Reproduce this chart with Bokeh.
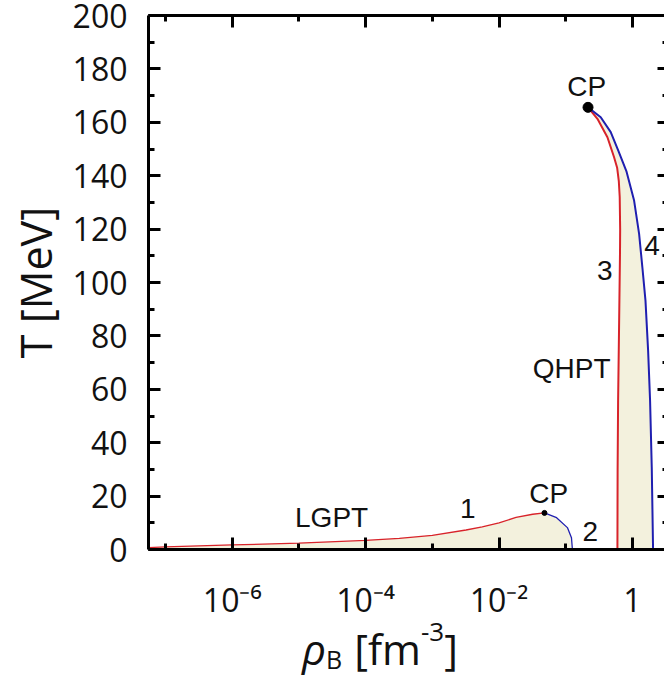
from bokeh.plotting import figure
from bokeh.layouts import column
from bokeh.models import (Range1d, LogAxis, LinearAxis, FixedTicker, SingleIntervalTicker,
                          CustomJSTickFormatter, ColumnDataSource, Div)
from bokeh.core.properties import value
from bokeh.embed import file_html
from bokeh.resources import INLINE

# ---------------- data ----------------
# curve 1 : liquid-gas transition line (red)
rho1 = [5.6e-8, 1e-7, 1e-6, 1e-5, 1e-4, 3.2e-4, 1e-3, 3.2e-3, 5.6e-3, 1e-2, 1.8e-2, 3.2e-2, 4.8e-2]
T1 = [0.7, 1.0, 1.7, 2.4, 3.4, 4.2, 5.3, 7.3, 8.5, 10.0, 12.0, 13.2, 13.7]
# curve 2 : (blue)
rho2 = [0.048, 0.073, 0.106, 0.122, 0.126]
T2 = [13.7, 11.9, 8.2, 4.4, 0.0]
# curve 3 : quark-hadron transition, hadron side (red)
rho3 = [0.216, 0.299, 0.422, 0.531, 0.590, 0.625, 0.645, 0.655, 0.652, 0.638, 0.624, 0.610, 0.600, 0.596]
T3 = [165.6, 161.3, 154.4, 146.9, 143.0, 138.0, 132.0, 120.0, 111.9, 93.2, 74.4, 55.7, 30.0, 0.0]
# curve 4 : quark side (blue)
rho4 = [0.216, 0.335, 0.473, 0.614, 0.817, 1.06, 1.26, 1.41, 1.57, 1.72, 1.84, 1.95, 2.04]
T4 = [165.6, 161.9, 156.3, 149.4, 141.5, 130.7, 118.2, 105.7, 93.2, 74.4, 55.7, 30.7, 0.0]
# critical points
cp_rho = [0.048, 0.216]
cp_T = [13.7, 165.6]

# tick values / labels
x_major = [1e-6, 1e-4, 1e-2, 1.0]
x_minor = [1e-7, 1e-5, 1e-3, 1e-1]
x_labels = ["10\u207b\u2076", "10\u207b\u2074", "10\u207b\u00b2", "1"]

# annotation texts
ann_text = ["CP", "3", "4", "QHPT", "CP", "2", "1", "LGPT"]
ann_rho = [0.206, 0.384, 1.97, 0.123, 0.0556, 0.233, 0.00339, 3.09e-5]
ann_T = [173.4, 104.4, 113.8, 67.7, 20.8, 6.9, 15.2, 11.8]

RED = "#d8232a"
BLUE = "#1f1fb0"
FILL = "#f3f1dd"
TICKFONT = "Open Sans"

X0, X1 = 10 ** -7.255, 10 ** 0.481

p = figure(width=664, height=625, x_axis_type="log",
           x_range=Range1d(X0, X1), y_range=Range1d(0, 200),
           output_backend="svg", toolbar_location=None,
           min_border_left=148, min_border_right=0, min_border_top=15, min_border_bottom=76)
p.grid.visible = False
p.outline_line_color = None

xt = FixedTicker(ticks=x_major, minor_ticks=x_minor)
fmt = CustomJSTickFormatter(args=dict(vals=x_major, labs=x_labels), code="""
for (let i = 0; i < vals.length; i++) {
  if (Math.abs(Math.log10(tick) - Math.log10(vals[i])) < 1e-6) return labs[i];
}
return '';
""")
blank = CustomJSTickFormatter(code="return '';")
yt = SingleIntervalTicker(interval=20, num_minor_ticks=2)

def style(ax, labels=True):
    ax.axis_line_width = 3
    ax.axis_line_color = "black"
    ax.major_tick_in = 12
    ax.major_tick_out = 0
    ax.minor_tick_in = 6
    ax.minor_tick_out = 0
    ax.major_tick_line_width = 3
    ax.minor_tick_line_width = 3
    ax.major_tick_line_color = "black"
    ax.minor_tick_line_color = "black"
    if labels:
        ax.major_label_text_font = TICKFONT
        ax.major_label_text_font_size = "32px"
        ax.major_label_text_color = "#111111"
    else:
        ax.formatter = blank
        ax.major_label_text_font_size = "4px"
        ax.major_label_text_alpha = 0
        ax.major_label_standoff = 0

xa = p.xaxis[0]
xa.ticker = xt
xa.formatter = fmt
style(xa)
xa.major_label_standoff = 28

ya = p.yaxis[0]
ya.ticker = yt
style(ya)
ya.major_label_standoff = 21
ya.axis_label = "T [MeV]"
ya.axis_label_text_font = TICKFONT
ya.axis_label_text_font_size = "43px"
ya.axis_label_text_font_style = "normal"
ya.axis_label_text_color = "#111111"
ya.axis_label_standoff = 5

top = LogAxis(ticker=FixedTicker(ticks=x_major, minor_ticks=x_minor))
style(top, labels=False)
p.add_layout(top, "above")
# right frame edge lies just beyond the picture in the reference: only tick stubs show
right = LinearAxis(ticker=SingleIntervalTicker(interval=20, num_minor_ticks=2))
style(right, labels=False)
right.axis_line_color = None
right.major_tick_in = 7
right.minor_tick_in = 2
p.add_layout(right, "right")

# fills
p.varea(x=rho1 + rho2[1:], y1=0, y2=T1 + T2[1:], fill_color=FILL)
p.patch(x=rho3 + rho4[::-1], y=T3 + T4[::-1], fill_color=FILL, line_color=None)

# lines
p.line(rho1, T1, line_color=RED, line_width=1.3)
p.line(rho2, T2, line_color=BLUE, line_width=1.3)
p.line(rho3, T3, line_color=RED, line_width=2)
p.line(rho4, T4, line_color=BLUE, line_width=2)

p.scatter(cp_rho, cp_T, size=[5, 10], fill_color="black", line_color="black")

src = ColumnDataSource(dict(x=ann_rho, y=ann_T, t=ann_text))
p.text(x="x", y="y", text="t", source=src, text_font=value("Liberation Sans"),
       text_font_size="28px", text_align="center", text_baseline="middle", text_color="#111111")

# x-axis title with subscript / superscript, as real HTML text below the plot
xlabel_html = (
    "<div style=\"font-family:'Open Sans',sans-serif;font-size:42px;line-height:48px;"
    "color:#111111;white-space:nowrap;padding-left:302px;\">"
    "<span style='font-style:italic'>\u03c1</span>"
    "<span style='font-size:25px;position:relative;top:4px;'>B</span>"
    "<span style='margin-left:12px'>[fm</span>"
    "<span style='font-size:26px;position:relative;top:-24px;'>-3</span>]"
    "</div>"
)
div = Div(text=xlabel_html, width=664, height=49, margin=(0, 0, 0, 0))

layout = column(p, div, spacing=0)
open("out.html", "w").write(file_html(layout, INLINE))
